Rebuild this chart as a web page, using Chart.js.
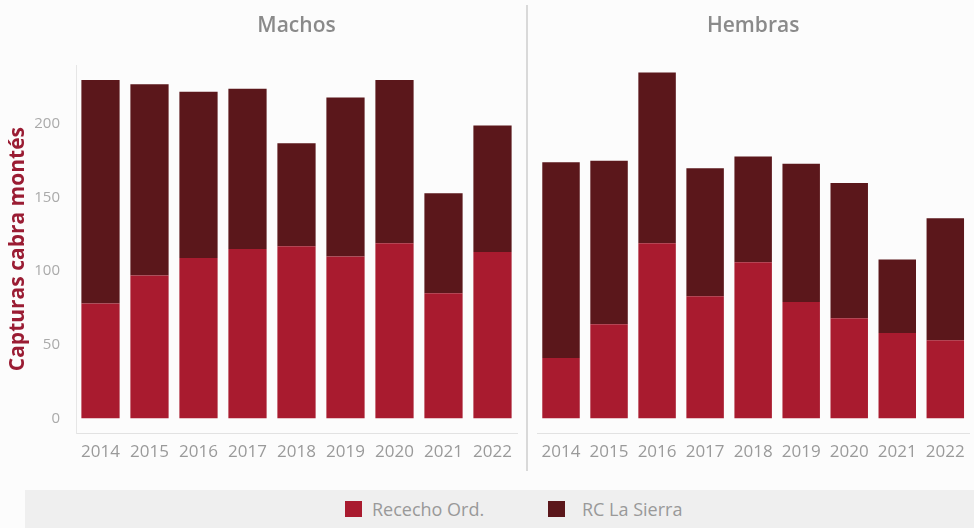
<!DOCTYPE html>
<html>
<head>
<meta charset="utf-8">
<script src="https://cdn.jsdelivr.net/npm/chart.js@4.4.1/dist/chart.umd.min.js"></script>
<style>
  body { margin: 0; background: #fcfcfc; font-family: "Open Sans", sans-serif; }
  #wrap { position: relative; width: 974px; height: 528px; overflow: hidden; }
  #left { position: absolute; left: 0; top: 0; width: 527px; height: 480px; }
  #right { position: absolute; left: 527px; top: 0; width: 447px; height: 480px; }
  #sep { position: absolute; left: 526px; top: 5px; width: 2px; height: 466px; background: #d9d9d9; }
  #legend { position: absolute; left: 25px; top: 490px; width: 949px; height: 38px;
    background: #efefef; display: flex; align-items: center; font-size: 18px; color: #999; }
  .item { position: absolute; display: flex; align-items: center; }
  .box { width: 17px; height: 16px; margin-right: 10px; }
</style>
</head>
<body>
<div id="wrap">
  <div id="left"><canvas id="graficoMachos"></canvas></div>
  <div id="sep"></div>
  <div id="right"><canvas id="graficoHembras"></canvas></div>
  <div id="legend"></div>
</div>
<script>
// Datos
const anos = ['2014', '2015', '2016', '2017', '2018', '2019', '2020', '2021', '2022'];
const series = ['Rececho Ord.', 'RC La Sierra'];
const machosRececho = [78, 97, 109, 115, 117, 110, 119, 85, 113];
const machosSierra  = [152, 130, 113, 109, 70, 108, 111, 68, 86];
const hembrasRececho = [41, 64, 119, 83, 106, 79, 68, 58, 53];
const hembrasSierra  = [133, 111, 116, 87, 72, 94, 92, 50, 83];
const yTicks = [0, 50, 100, 150, 200];

const colores = ['#a91b2f', '#5b171b'];

// Leyenda en HTML (abajo, compartida)
const legend = document.getElementById('legend');
const legendX = [320, 523];
series.forEach((nombre, i) => {
    const item = document.createElement('div');
    item.className = 'item';
    item.style.left = legendX[i] + 'px';
    item.innerHTML = '<span class="box" style="background:' + colores[i] + '"></span>' + nombre;
    if (i === 1) item.querySelector('.box').style.marginRight = '17px';
    legend.appendChild(item);
});

function crearGrafico(id, titulo, rececho, sierra, conEjeY) {
    const ctx = document.getElementById(id).getContext('2d');
    return new Chart(ctx, {
        type: 'bar',
        data: {
            labels: anos,
            datasets: [
                { label: series[0], data: rececho, backgroundColor: colores[0] },
                { label: series[1], data: sierra, backgroundColor: colores[1] }
            ]
        },
        options: {
            responsive: true,
            maintainAspectRatio: false,
            animation: false,
            layout: { padding: { left: conEjeY ? 0 : 10, right: conEjeY ? 10 : 0, top: 0, bottom: 0 } },
            datasets: { bar: { categoryPercentage: 1, barPercentage: 0.78 } },
            scales: {
                x: {
                    stacked: true,
                    grid: { display: false, drawTicks: false },
                    border: { display: true, color: '#e2e2e2', dash: [2, 2] },
                    ticks: { color: '#9a9a9a', padding: 9, maxRotation: 0, autoSkip: false,
                        font: { family: 'Open Sans', size: 17 } },
                    afterFit: scale => { scale.height = 47; }
                },
                y: {
                    stacked: true,
                    display: conEjeY,
                    min: -10,
                    max: 240,
                    afterBuildTicks: scale => { scale.ticks = yTicks.map(v => ({ value: v })); },
                    grid: { display: false },
                    border: { display: true, color: '#e6e6e6' },
                    ticks: { color: '#aaaaaa', padding: 8, font: { family: 'Open Sans', size: 15 } },
                    title: {
                        display: true,
                        text: 'Capturas cabra montés',
                        color: '#9a1c33',
                        padding: { top: 5, bottom: 4 },
                        font: { family: 'Open Sans', size: 21, weight: 'bold' }
                    },
                    afterFit: scale => { scale.width = conEjeY ? 76 : 0; }
                }
            },
            plugins: {
                legend: { display: false },
                tooltip: { enabled: false },
                title: {
                    display: true,
                    text: titulo,
                    fullSize: false,
                    color: '#8a8a8a',
                    padding: { top: 13, bottom: 27 },
                    font: { family: 'Open Sans', size: 21, weight: '600', lineHeight: 1.2 }
                }
            }
        }
    });
}

crearGrafico('graficoMachos', 'Machos', machosRececho, machosSierra, true);
crearGrafico('graficoHembras', 'Hembras', hembrasRececho, hembrasSierra, false);
</script>
</body>
</html>
